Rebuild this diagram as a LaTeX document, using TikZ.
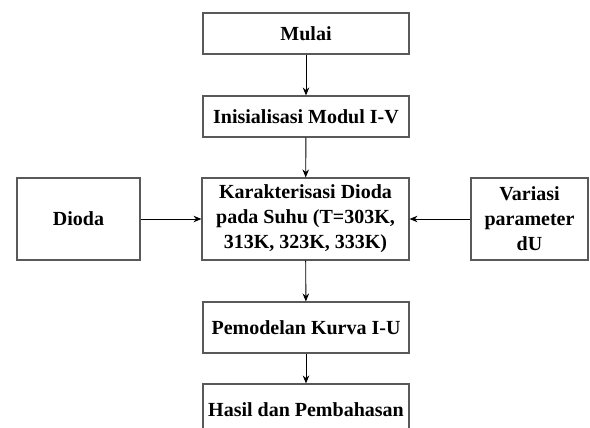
\documentclass[tikz,border=0pt]{standalone}
\usepackage{fontspec}
\setmainfont{Liberation Serif}
\usetikzlibrary{arrows.meta}

\begin{document}
\begin{tikzpicture}[x=1pt, y=-1pt,
		box/.style={draw=black!65, line width=1.1pt, align=center, inner sep=0pt,
			font=\fontsize{20}{25}\selectfont\bfseries},
		arr/.style={-{Stealth[length=8pt,width=6.5pt]}, line width=0.9pt}]
	\useasboundingbox (0,0) rectangle (590,428);
	\clip (0,0) rectangle (590,428);

	\node[box, minimum width=206pt, minimum height=41pt] (mulai) at (306,33.5) {Mulai};
	\node[box, minimum width=206pt, minimum height=41pt] (inisialisasi) at (306,116.5) {Inisialisasi Modul I-V};
	\node[box, minimum width=207pt, minimum height=82pt] (karakterisasi) at (305.5,219)
		{Karakterisasi Dioda\\pada Suhu (T=303K,\\313K, 323K, 333K)};
	\node[box, minimum width=206pt, minimum height=51pt] (pemodelan) at (306,327.5) {Pemodelan Kurva I-U};
	\node[box, minimum width=206pt, minimum height=51pt] (hasil) at (306,409.5) {Hasil dan Pembahasan};

	\node[box, minimum width=123pt, minimum height=82pt] (dioda) at (78.5,219) {Dioda};
	\node[box, minimum width=117pt, minimum height=82pt] (variasi) at (529.5,219) {Variasi\\parameter\\dU};

	\draw[arr] (mulai) -- (inisialisasi);
	\draw[arr] (inisialisasi) -- (karakterisasi);
	\draw[arr] (karakterisasi) -- (pemodelan);
	\draw[arr] (pemodelan) -- (hasil);
	\draw[arr] (dioda) -- (karakterisasi);
	\draw[arr] (variasi) -- (karakterisasi);
\end{tikzpicture}
\end{document}
